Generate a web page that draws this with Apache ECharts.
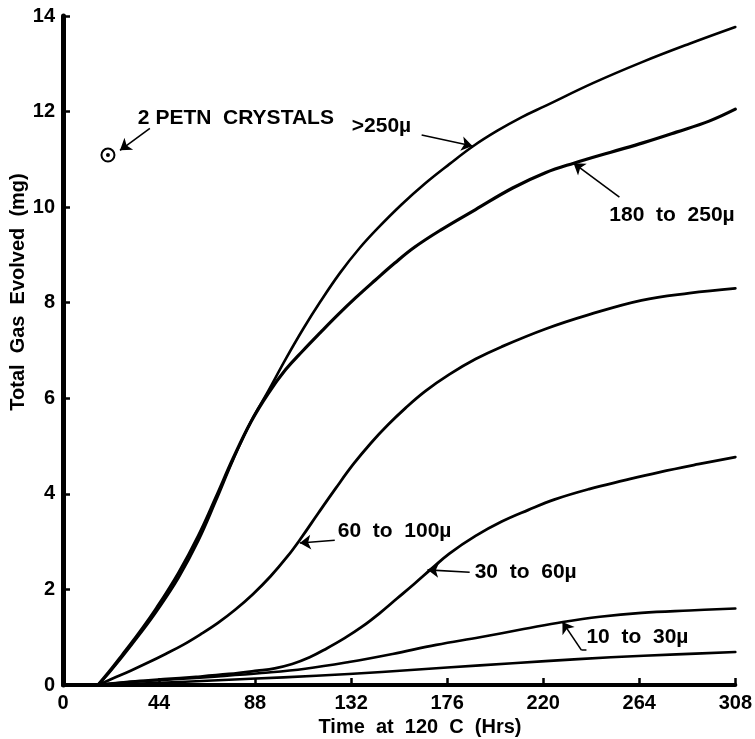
<!DOCTYPE html>
<html>
<head>
<meta charset="utf-8">
<script src="https://cdn.jsdelivr.net/npm/echarts@6/dist/echarts.min.js"></script>
<style>
html,body{margin:0;padding:0;background:#fff;}
#chart{width:755px;height:739px;}
</style>
</head>
<body>
<div id="chart"></div>
<script>
// ---- data ----
const xTickValues = [0, 44, 88, 132, 176, 220, 264, 308];
const yTickValues = [0, 2, 4, 6, 8, 10, 12, 14];

const tA = [16, 21, 27, 35, 43, 53, 62, 70, 78, 86, 94, 102, 110, 118, 127, 136, 144, 155, 166, 177, 188, 199, 210, 221, 243, 265, 287, 308];
const vA = [0, 0.25, 0.58, 1.05, 1.55, 2.25, 3.02, 3.85, 4.72, 5.5, 6.15, 6.82, 7.45, 8.03, 8.63, 9.15, 9.55, 10.05, 10.5, 10.9, 11.28, 11.6, 11.88, 12.12, 12.6, 13.03, 13.42, 13.77];

const tB = [16, 21, 27, 35, 43, 53, 62, 70, 78, 86, 94, 102, 110, 118, 126, 134, 143, 152, 161, 173, 189, 206, 221, 234, 251, 266, 281, 296, 308];
const vB = [0, 0.27, 0.62, 1.1, 1.62, 2.35, 3.12, 3.92, 4.75, 5.5, 6.1, 6.6, 7.0, 7.38, 7.75, 8.1, 8.47, 8.83, 9.16, 9.52, 9.95, 10.4, 10.72, 10.92, 11.15, 11.35, 11.57, 11.8, 12.05];

const tC = [16, 23, 31, 39, 47, 55, 63, 71, 79, 87, 95, 103, 109, 117, 125, 133, 141, 149, 157, 166, 177, 189, 201, 221, 241, 265, 287, 308];
const vC = [0, 0.14, 0.3, 0.47, 0.65, 0.84, 1.06, 1.3, 1.58, 1.9, 2.27, 2.7, 3.07, 3.6, 4.12, 4.62, 5.06, 5.45, 5.8, 6.15, 6.5, 6.82, 7.08, 7.45, 7.75, 8.05, 8.2, 8.3];

const tD = [16, 31, 46, 61, 76, 89, 97, 105, 113, 121, 129, 137, 145, 153, 161, 169, 177, 189, 201, 213, 225, 241, 257, 273, 291, 308];
const vD = [0, 0.07, 0.12, 0.17, 0.23, 0.3, 0.35, 0.44, 0.58, 0.77, 0.98, 1.22, 1.5, 1.81, 2.12, 2.44, 2.75, 3.12, 3.42, 3.66, 3.88, 4.1, 4.28, 4.45, 4.62, 4.77];

const tE = [16, 31, 51, 71, 91, 111, 131, 151, 171, 191, 211, 229, 246, 265, 287, 308];
const vE = [0, 0.06, 0.12, 0.18, 0.25, 0.34, 0.48, 0.65, 0.84, 1.0, 1.17, 1.32, 1.43, 1.51, 1.56, 1.6];

const tF = [16, 41, 71, 101, 131, 161, 191, 221, 251, 281, 308];
const vF = [0, 0.04, 0.1, 0.16, 0.23, 0.32, 0.41, 0.5, 0.58, 0.64, 0.69];

const petnPoint = [20.6, 11.09];

const labelTexts = ['2 PETN  CRYSTALS', '>250\u00b5', '180  to  250\u00b5', '60  to  100\u00b5', '30  to  60\u00b5', '10  to  30\u00b5'];
const labelAnchors = [[34.3, 11.86], [132.3, 11.69], [250.3, 9.83], [125.9, 3.22], [188.6, 2.36], [239.8, 1.0]];
// arrows: [from, to(tip)]
const arrowSegments = [
  [[39.8, 11.65], [26.1, 11.19]],
  [[164.3, 11.51], [187.6, 11.28]],
  [[254.9, 10.21], [233.9, 10.92]],
  [[124.5, 3.03], [108.5, 2.97]],
  [[186.3, 2.36], [167.0, 2.41]],
  [[237.5, 0.73], [228.8, 1.32]]
];
// plain leader segments (no arrow head)
const leaderSegments = [
  [[239.8, 0.73], [237.5, 0.73]]
];

const xTitle = 'Time  at  120  C  (Hrs)';
const yTitle = 'Total  Gas  Evolved  (mg)';

// ---- build ----
function zip(t, v) { return t.map((x, i) => [x, v[i]]); }
const FONT = '"Liberation Sans", Arial, Helvetica, sans-serif';

function curve(name, t, v, w) {
  return {
    name: name, type: 'line', data: zip(t, v), smooth: 0.4,
    showSymbol: false, symbol: 'none', silent: true,
    lineStyle: { color: '#000', width: w, cap: 'round', join: 'round' }
  };
}

const chart = echarts.init(document.getElementById('chart'), null, { renderer: 'canvas' });
chart.setOption({
  animation: false,
  backgroundColor: '#fff',
  grid: { left: 63, right: 19, top: 16, bottom: 54, containLabel: false },
  xAxis: {
    type: 'value', min: xTickValues[0], max: xTickValues[xTickValues.length - 1],
    interval: xTickValues[1] - xTickValues[0],
    axisLine: { show: true, onZero: false, lineStyle: { color: '#000', width: 4 } },
    axisTick: { show: true, inside: true, length: 7, lineStyle: { color: '#000', width: 2.5 } },
    axisLabel: { color: '#000', fontSize: 20, fontWeight: 'bold', fontFamily: FONT, margin: 8 },
    splitLine: { show: false }
  },
  yAxis: {
    type: 'value', min: yTickValues[0], max: yTickValues[yTickValues.length - 1],
    interval: yTickValues[1] - yTickValues[0],
    axisLine: { show: true, onZero: false, lineStyle: { color: '#000', width: 5 } },
    axisTick: { show: true, inside: true, length: 7, lineStyle: { color: '#000', width: 2.5 } },
    axisLabel: { color: '#000', fontSize: 20, fontWeight: 'bold', fontFamily: FONT, margin: 8 },
    splitLine: { show: false }
  },
  graphic: [
    { type: 'text', x: 420, y: 727, silent: true,
      style: { text: xTitle, fill: '#000', font: 'bold 20px ' + FONT, textAlign: 'center', textVerticalAlign: 'middle' } },
    { type: 'text', x: 18, y: 292, rotation: Math.PI / 2, silent: true,
      style: { text: yTitle, fill: '#000', font: 'bold 20px ' + FONT, textAlign: 'center', textVerticalAlign: 'middle' } }
  ],
  series: [
    curve('>250\u00b5', tA, vA, 2.6),
    curve('180 to 250\u00b5', tB, vB, 3.2),
    curve('60 to 100\u00b5', tC, vC, 2.8),
    curve('30 to 60\u00b5', tD, vD, 2.8),
    curve('10 to 30\u00b5', tE, vE, 2.6),
    curve('<10', tF, vF, 2.6),
    {
      type: 'scatter', silent: true, symbol: 'emptyCircle', symbolSize: 13,
      itemStyle: { color: '#000', borderColor: '#000', borderWidth: 2.2, opacity: 1 },
      data: [petnPoint]
    },
    {
      type: 'scatter', silent: true, symbol: 'circle', symbolSize: 4,
      itemStyle: { color: '#000', opacity: 1 }, data: [petnPoint]
    },
    {
      type: 'lines', coordinateSystem: 'cartesian2d', silent: true,
      symbol: ['none', 'arrow'], symbolSize: [1, 11],
      lineStyle: { color: '#000', width: 1.6, opacity: 1, curveness: 0 },
      itemStyle: { color: '#000' },
      data: arrowSegments.map(p => ({ coords: p }))
    },
    {
      type: 'lines', coordinateSystem: 'cartesian2d', silent: true,
      symbol: ['none', 'none'],
      lineStyle: { color: '#000', width: 1.6, opacity: 1, curveness: 0 },
      data: leaderSegments.map(p => ({ coords: p }))
    },
    {
      type: 'scatter', silent: true, symbolSize: 0, symbol: 'circle',
      itemStyle: { color: 'rgba(0,0,0,0)', opacity: 1 },
      label: {
        show: true, position: [0, 0], align: 'left', verticalAlign: 'middle',
        color: '#000', fontSize: 21, fontWeight: 'bold', fontFamily: FONT,
        formatter: p => labelTexts[p.dataIndex]
      },
      data: labelAnchors
    }
  ]
});
</script>
</body>
</html>
